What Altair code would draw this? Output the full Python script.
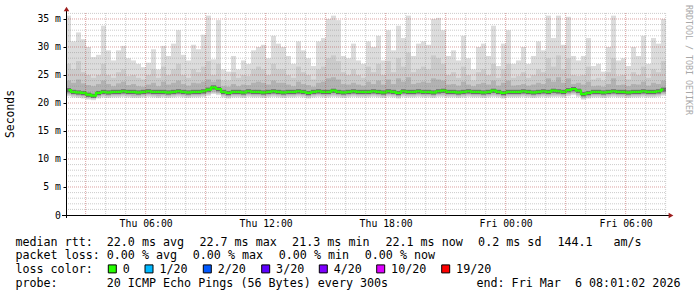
import altair as alt
import pandas as pd

MONO = "DejaVu Sans Mono"

# ---- time axis (hours after Thu 00:00) ----
T0 = 2.0 + 1 / 60 + 2 / 3600      # left edge: Thu 02:01:02
SPAN_H = 30.0                      # 30 hours shown
STEP_H = 0.25                      # one column every 15 minutes

# ---- smoke data (ms), one value per 15-minute column ----
max_ms = [35.6, 31.0, 32.6, 31.4, 30.0, 28.2, 28.6, 33.8, 29.4, 27.6,
          29.4, 30.2, 28.0, 27.6, 27.0, 26.4, 27.2, 29.6, 26.0, 30.2,
          28.4, 30.6, 33.0, 28.6, 27.6, 30.4, 29.6, 32.2, 35.6, 27.8,
          34.8, 26.0, 25.6, 28.4, 26.0, 27.6, 27.0, 29.4, 30.0, 30.4,
          28.0, 32.0, 30.6, 30.0, 28.4, 27.0, 31.0, 29.4, 28.0, 26.6,
          31.0, 31.6, 35.0, 35.6, 34.8, 28.4, 28.0, 30.6, 27.6, 27.0,
          31.0, 30.0, 32.0, 27.6, 33.0, 29.4, 33.8, 31.6, 35.6, 28.4,
          30.6, 31.0, 30.4, 35.0, 35.2, 33.0, 28.4, 29.4, 27.6, 32.0,
          28.0, 26.0, 30.0, 30.6, 28.4, 33.8, 26.6, 30.6, 33.0, 27.0,
          27.6, 30.0, 27.0, 28.4, 31.0, 29.4, 35.6, 31.6, 35.6, 30.4,
          35.4, 28.4, 27.6, 28.4, 31.6, 26.6, 27.0, 25.6, 30.0, 35.6,
          27.6, 28.0, 26.6, 30.0, 28.4, 32.0, 27.0, 31.6, 30.6, 35.0]

upper_ms = [27.0, 26.0, 27.5, 25.5, 25.0, 24.5, 25.0, 27.0, 25.0, 24.5,
            25.5, 26.0, 24.8, 25.0, 24.5, 24.2, 25.0, 26.0, 24.5, 26.5,
            25.0, 26.0, 27.0, 25.0, 24.5, 26.0, 25.5, 26.5, 27.5, 25.0,
            27.0, 24.0, 24.0, 25.5, 24.5, 25.0, 24.8, 26.0, 26.5, 26.0,
            25.0, 27.0, 26.0, 26.0, 25.0, 24.5, 26.5, 25.5, 25.0, 24.2,
            26.0, 26.5, 28.0, 28.5, 27.5, 25.5, 25.0, 26.0, 25.0, 24.5,
            26.5, 25.5, 27.0, 25.0, 27.5, 25.5, 28.0, 26.5, 29.0, 25.5,
            26.0, 26.5, 26.0, 28.5, 28.0, 27.0, 25.0, 25.5, 24.5, 26.5,
            25.0, 24.0, 25.5, 26.0, 25.0, 27.0, 24.5, 26.0, 27.0, 24.5,
            24.8, 25.5, 24.5, 25.0, 26.0, 25.5, 28.0, 26.5, 28.5, 26.0,
            28.0, 25.0, 24.8, 25.0, 26.5, 24.2, 24.5, 24.0, 25.5, 28.0,
            24.8, 25.0, 24.2, 25.5, 25.0, 26.5, 24.5, 26.0, 25.5, 27.5]

inner_ms = [24.0, 23.6, 24.2, 23.5, 23.2, 23.0, 23.4, 24.0, 23.4, 23.0,
            23.5, 23.8, 23.2, 23.4, 23.0, 22.9, 23.3, 23.6, 23.0, 23.8,
            23.3, 23.6, 24.0, 23.4, 23.1, 23.6, 23.5, 23.8, 24.2, 23.8,
            24.2, 23.0, 22.9, 23.4, 23.0, 23.3, 23.2, 23.6, 23.8, 23.6,
            23.3, 24.0, 23.6, 23.6, 23.3, 23.0, 23.8, 23.4, 23.2, 22.9,
            23.6, 23.8, 24.4, 24.6, 24.2, 23.4, 23.3, 23.6, 23.3, 23.1,
            23.8, 23.4, 24.0, 23.3, 24.2, 23.4, 24.4, 23.8, 24.6, 23.4,
            23.6, 23.8, 23.6, 24.4, 24.2, 24.0, 23.3, 23.4, 23.1, 23.8,
            23.3, 23.0, 23.4, 23.6, 23.3, 24.0, 23.1, 23.6, 24.0, 23.1,
            23.2, 23.4, 23.1, 23.3, 23.6, 23.4, 24.4, 23.8, 24.6, 23.6,
            24.4, 23.4, 23.6, 23.3, 23.8, 23.0, 23.1, 22.9, 23.4, 24.4,
            23.2, 23.3, 23.0, 23.4, 23.3, 23.8, 23.1, 23.6, 23.4, 24.0]

median_ms = [22.3, 22.0, 21.9, 21.8, 21.5, 21.3, 21.8, 22.0, 21.9, 22.0,
             22.0, 22.1, 22.0, 22.0, 21.9, 22.0, 22.1, 22.0, 22.0, 22.0,
             21.9, 22.0, 22.1, 22.0, 21.9, 22.0, 22.0, 22.1, 22.4, 22.8,
             22.5, 22.0, 21.8, 22.0, 22.0, 21.9, 22.1, 22.0, 22.0, 21.9,
             22.0, 22.1, 22.0, 21.9, 22.0, 22.0, 22.1, 22.0, 21.8, 22.0,
             22.1, 22.0, 22.0, 22.2, 22.0, 21.9, 22.0, 22.1, 22.0, 22.0,
             22.0, 22.1, 22.0, 21.9, 22.1, 22.0, 21.8, 22.1, 22.0, 22.0,
             22.1, 22.0, 22.0, 21.9, 22.1, 22.2, 22.0, 22.0, 21.9, 22.0,
             22.1, 22.0, 22.0, 21.9, 22.0, 22.2, 22.0, 21.8, 22.0, 22.0,
             22.0, 22.1, 22.0, 21.9, 22.0, 22.1, 22.0, 22.2, 22.1, 22.0,
             22.3, 22.5, 22.2, 21.6, 21.8, 22.0, 22.0, 21.9, 22.0, 22.1,
             22.0, 22.0, 21.9, 22.0, 22.0, 22.1, 22.0, 22.0, 22.1, 22.4]

low_ms = [21.2, 21.0, 20.9, 20.8, 20.6, 20.5, 20.8, 21.0, 20.9, 21.0,
          21.0, 21.1, 21.0, 20.9, 20.9, 21.0, 21.1, 21.0, 20.9, 21.0,
          20.9, 21.0, 21.1, 21.0, 20.9, 21.0, 21.0, 21.1, 21.3, 21.6,
          21.4, 21.0, 20.8, 21.0, 21.0, 20.9, 21.1, 21.0, 21.0, 20.9,
          21.0, 21.1, 21.0, 20.9, 21.0, 21.0, 21.1, 21.0, 20.8, 21.0,
          21.1, 21.0, 21.0, 21.1, 21.0, 20.9, 21.0, 21.1, 21.0, 21.0,
          21.0, 21.1, 21.0, 20.9, 21.1, 21.0, 20.8, 21.1, 21.0, 21.0,
          21.1, 21.0, 21.0, 20.9, 21.1, 21.1, 21.0, 21.0, 20.9, 21.0,
          21.1, 21.0, 21.0, 20.9, 21.0, 21.1, 21.0, 20.8, 21.0, 21.0,
          21.0, 21.1, 21.0, 20.9, 21.0, 21.1, 21.0, 21.1, 21.1, 21.0,
          21.2, 21.4, 21.1, 20.6, 20.8, 21.0, 21.0, 20.9, 21.0, 21.1,
          21.0, 21.0, 20.9, 21.0, 21.0, 21.1, 21.0, 21.0, 21.1, 21.3]

# ---- axes / grid ----
Y_MAX = 36.07
y_ticks = [0, 5, 10, 15, 20, 25, 30, 35]
y_minor = [1, 2, 3, 4, 6, 7, 8, 9, 11, 12, 13, 14, 16, 17, 18, 19, 21, 22, 23, 24,
           26, 27, 28, 29, 31, 32, 33, 34, 36]
x_major = [3, 6, 9, 12, 15, 18, 21, 24, 27, 30]
x_minor = [4, 5, 7, 8, 10, 11, 13, 14, 16, 17, 19, 20, 22, 23, 25, 26, 28, 29, 31, 32]
x_label_hours = [6, 12, 18, 24, 30]
x_label_text = ["Thu 06:00", "Thu 12:00", "Thu 18:00", "Fri 00:00", "Fri 06:00"]

# ---- legend ----
loss_labels = ["0", "1/20", "2/20", "3/20", "4/20", "10/20", "19/20"]
loss_colors = ["#26ff00", "#00b8ff", "#0059ff", "#5e00ff", "#7e00ff", "#dd00ff", "#ff0000"]
line1 = ["median rtt:", "22.0 ms avg", "22.7 ms max", "21.3 ms min", "22.1 ms now",
         "0.2 ms sd", "144.1", "am/s"]
line2 = ["packet loss:", "0.00 % avg", "0.00 % max", "0.00 % min", "0.00 % now"]
line3 = ["loss color:"]
line4 = ["probe:", "20 ICMP Echo Pings (56 Bytes) every 300s"]
end_text = "end: Fri Mar\u00a0\u00a06 08:01:02 2026"
y_title = "Seconds"
watermark = "RRDTOOL / TOBI OETIKER"

# layout (absolute page pixels)
PL, PT, W, H = 66, 13, 600, 202
line1_x = [16, 107.3, 200, 292.7, 386, 478.7, 558, 614]
line2_x = [16, 107.3, 193.3, 279.3, 365.3]
line3_x = [16]
line4_x = [16, 107.3]
loss_label_x = [123.3, 160, 218.3, 276.7, 334.3, 391.7, 456.7]
row_y = [241.6, 255.2, 268.9, 282.6]

# ---- tables ----
n = len(median_ms)
t_start = [T0 + STEP_H * i for i in range(n)]
smoke = pd.DataFrame({
    "t0": t_start,
    "t1": [t + STEP_H for t in t_start],
    "tm": [t + STEP_H / 2 for t in t_start],
    "low": low_ms, "max": max_ms, "upper": upper_ms,
    "inner": inner_ms, "median": median_ms,
})
smoke["low2"] = smoke["low"] + 0.2
smoke["low3"] = smoke["low"] + 0.4
smoke["d0"] = smoke["median"] - 0.4
smoke["d1"] = smoke["median"] + 0.35

xs = alt.Scale(domain=[T0, T0 + SPAN_H], nice=False, zero=False)
ys = alt.Scale(domain=[0, Y_MAX], nice=False, zero=True)

x_expr = " : ".join(f"datum.value == {h} ? '{t}'" for h, t in zip(x_label_hours, x_label_text)) + " : ''"

x_axis = alt.Axis(values=x_label_hours, labelExpr=x_expr, ticks=False, domain=False, grid=False,
                  labelFont=MONO, labelFontSize=9.8, labelColor="#000000", labelPadding=3.5,
                  labelFlush=False, labelOverlap=False, title=None)
y_axis = alt.Axis(values=y_ticks, labelExpr="datum.value == 0 ? '0' : datum.value + ' m'",
                  tickSize=3, tickColor="#000000", domain=False, grid=False,
                  labelFont=MONO, labelFontSize=9.8, labelColor="#000000", labelPadding=2.5,
                  labelOverlap=False, labelFlush=False, title=None)


def X(field):
    return alt.X(field, scale=xs, axis=x_axis)


def Y(field):
    return alt.Y(field, scale=ys, axis=y_axis)


base = alt.Chart(smoke)
light = base.mark_rect(color="#dcdcdc").encode(
    x=X("t0:Q"), x2="t1:Q", y=Y("low:Q"), y2="max:Q")
medium = base.mark_rect(color="#cbcbcb").encode(
    x=X("t0:Q"), x2="t1:Q", y=Y("low2:Q"), y2="upper:Q")
darker = base.mark_rect(color="#b2b2b2").encode(
    x=X("t0:Q"), x2="t1:Q", y=Y("low3:Q"), y2="inner:Q")
dark = base.mark_rect(color="#6a6a6a").encode(
    x=X("t0:Q"), x2="t1:Q", y=Y("d0:Q"), y2="d1:Q")
green = base.mark_line(color=loss_colors[0], strokeWidth=2.2, interpolate="step").encode(
    x=X("tm:Q"), y=Y("median:Q"))

gy_minor = alt.Chart(pd.DataFrame({"v": y_minor})).mark_rule(
    color="#8c8c8c", opacity=0.45, strokeDash=[1, 1]).encode(
    y=Y("v:Q"), x=alt.value(0), x2=alt.value(W))
gy_major = alt.Chart(pd.DataFrame({"v": y_ticks[1:]})).mark_rule(
    color="#b03030", opacity=0.45, strokeDash=[1, 1]).encode(
    y=Y("v:Q"), x=alt.value(0), x2=alt.value(W))
gx_minor = alt.Chart(pd.DataFrame({"h": x_minor})).mark_rule(
    color="#8c8c8c", opacity=0.45, strokeDash=[1, 1]).encode(
    x=X("h:Q"), y=alt.value(0), y2=alt.value(H))
gx_major = alt.Chart(pd.DataFrame({"h": x_major})).mark_rule(
    color="#b03030", opacity=0.45, strokeDash=[1, 1]).encode(
    x=X("h:Q"), y=alt.value(0), y2=alt.value(H))

main = alt.layer(light, medium, darker, dark, green, gy_minor, gy_major, gx_minor, gx_major)

# ---- furniture (axis lines, arrows, texts) in page pixels ----
one = pd.DataFrame({"k": [0]})
yaxis_line = alt.Chart(one).mark_rule(color="#000000", strokeWidth=1).encode(
    x=alt.value(0.5), y=alt.value(-3), y2=alt.value(H + 3))
xaxis_line = alt.Chart(one).mark_rule(color="#000000", strokeWidth=1).encode(
    y=alt.value(H + 0.5), x=alt.value(-4), x2=alt.value(W + 3))
arrow_up = alt.Chart(one).mark_point(shape="triangle-up", filled=True, size=30,
                                     color="#9c1c1c", opacity=1).encode(
    x=alt.value(0.5), y=alt.value(-4))
arrow_right = alt.Chart(one).mark_point(shape="triangle-right", filled=True, size=30,
                                        color="#9c1c1c", opacity=1).encode(
    x=alt.value(W + 5), y=alt.value(H + 0.5))

rows = []
for texts, xpos, ry in ((line1, line1_x, row_y[0]), (line2, line2_x, row_y[1]),
                        (line3, line3_x, row_y[2]), (line4, line4_x, row_y[3])):
    for t, x in zip(texts, xpos):
        rows.append({"text": t, "x": x - PL - 0.6, "y": ry - PT})
for t, x in zip(loss_labels, loss_label_x):
    rows.append({"text": t, "x": x - PL - 0.6, "y": row_y[2] - PT})
legend_df = pd.DataFrame(rows)

legend_text = alt.Chart(legend_df).mark_text(
    align="left", baseline="middle", font=MONO, fontSize=11.7, color="#000000").encode(
    x=alt.X("x:Q", scale=None), y=alt.Y("y:Q", scale=None), text="text:N")

end_label = alt.Chart(pd.DataFrame({"text": [end_text]})).mark_text(
    align="right", baseline="middle", font=MONO, fontSize=11.7, color="#000000").encode(
    x=alt.value(680.5 - PL), y=alt.value(row_y[3] - PT), text="text:N")

sq_df = pd.DataFrame({
    "x0": [x - 15 - PL for x in loss_label_x],
    "x1": [x - 15 - PL + 8 for x in loss_label_x],
    "y0": [row_y[2] - PT - 4] * len(loss_label_x),
    "y1": [row_y[2] - PT + 4] * len(loss_label_x),
    "c": loss_colors,
})
squares = alt.Chart(sq_df).mark_rect(stroke="#000000", strokeWidth=1).encode(
    x=alt.X("x0:Q", scale=None), x2="x1:Q", y=alt.Y("y0:Q", scale=None), y2="y1:Q",
    fill=alt.Fill("c:N", scale=None))

ytitle = alt.Chart(pd.DataFrame({"text": [y_title]})).mark_text(
    angle=270, align="center", baseline="middle", font=MONO, fontSize=11.4, color="#000000").encode(
    x=alt.value(10.5 - PL), y=alt.value(114 - PT), text="text:N")
wm = alt.Chart(pd.DataFrame({"text": [watermark]})).mark_text(
    angle=90, align="center", baseline="middle", font=MONO, fontSize=8.3, color="#a8a8a8").encode(
    x=alt.value(688 - PL), y=alt.value(60 - PT), text="text:N")

furniture = alt.layer(yaxis_line, xaxis_line, arrow_up, arrow_right, legend_text, end_label,
                      squares, ytitle, wm)

chart = alt.layer(main, furniture).resolve_scale(x="independent", y="independent").properties(
    width=W, height=H,
    autosize=alt.AutoSizeParams(type="none"),
    padding={"left": PL, "top": PT, "right": 697 - PL - W, "bottom": 297 - PT - H},
    background="#ffffff",
).configure_view(stroke=None)

chart.save("out.html", embed_options={"renderer": "svg", "actions": False})
